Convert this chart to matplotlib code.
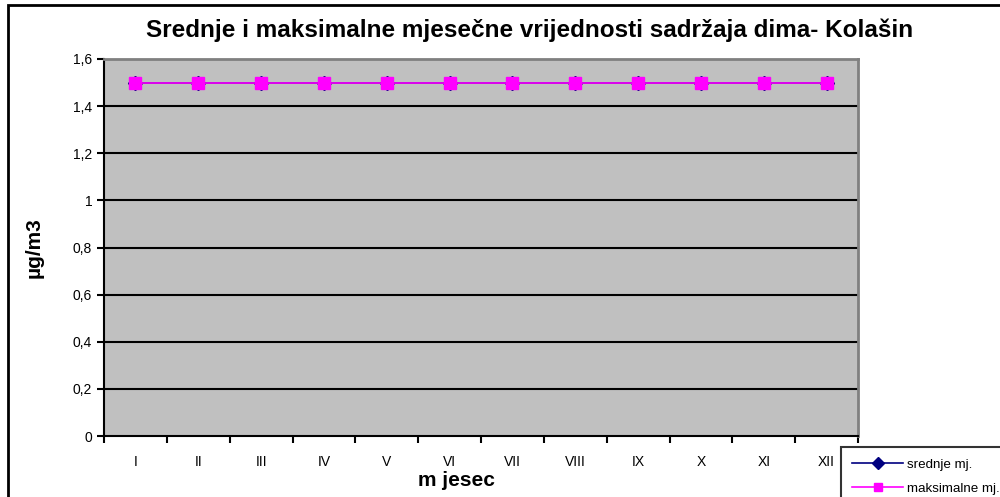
import matplotlib
matplotlib.use('Agg')
import matplotlib.pyplot as plt
import matplotlib.ticker as mticker
from matplotlib.patches import Rectangle

plt.rcParams['font.family'] = ['Liberation Sans', 'DejaVu Sans']

# podaci
months = ['I', 'II', 'III', 'IV', 'V', 'VI', 'VII', 'VIII', 'IX', 'X', 'XI', 'XII']
srednje = [1.5, 1.5, 1.5, 1.5, 1.5, 1.5, 1.5, 1.5, 1.5, 1.5, 1.5, 1.5]
maksimalne = [1.5, 1.5, 1.5, 1.5, 1.5, 1.5, 1.5, 1.5, 1.5, 1.5, 1.5, 1.5]
y_ticks = [0, 0.2, 0.4, 0.6, 0.8, 1.0, 1.2, 1.4, 1.6]

fig = plt.figure(figsize=(10, 4.97), dpi=100)
ax = fig.add_axes([0.104, 0.1227, 0.754, 0.7586])
ax.set_facecolor('#C0C0C0')

x = list(range(1, len(months) + 1))
ax.plot(x, srednje, color='#000080', linewidth=1.2, marker='D', markersize=7,
        label='srednje mj.', zorder=3)
ax.plot(x, maksimalne, color='#FF00FF', linewidth=1.2, marker='s', markersize=9,
        label='maksimalne mj.', zorder=4)

ax.set_xlim(0.5, 12.5)
ax.set_ylim(0, 1.6)
ax.set_yticks(y_ticks)
ax.yaxis.set_major_formatter(mticker.FuncFormatter(
    lambda v, p: ('%g' % v).replace('.', ',')))
ax.set_xticks(x)
ax.set_xticklabels(months)
ax.set_xticks([i + 0.5 for i in range(0, 13)], minor=True)
ax.tick_params(axis='x', which='major', length=0, pad=14, labelsize=10)
ax.tick_params(axis='x', which='minor', length=5, width=1.5, direction='out')
ax.tick_params(axis='y', length=5, width=1.5, direction='out', labelsize=10)

for yv in y_ticks[1:-1]:
    ax.axhline(yv, color='black', linewidth=1.5, zorder=1)

for s in ['left', 'bottom']:
    ax.spines[s].set_color('black')
    ax.spines[s].set_linewidth(1.5)
for s in ['top', 'right']:
    ax.spines[s].set_color('#808080')
    ax.spines[s].set_linewidth(2)

ax.set_xlabel('m jesec', fontsize=15, fontweight='bold')
ax.xaxis.set_label_coords(0.468, -0.093)
ax.set_ylabel('µg/m3', fontsize=15, fontweight='bold')
ax.yaxis.set_label_coords(-0.08, 0.5)
fig.suptitle('Srednje i maksimalne mjesečne vrijednosti sadržaja dima- Kolašin',
             fontsize=17.5, fontweight='bold', x=0.53, y=0.962)

leg = ax.legend(loc='upper left', bbox_to_anchor=(0.841, 0.1006),
                bbox_transform=fig.transFigure, borderaxespad=0,
                fontsize=9.6, frameon=True,
                fancybox=False, borderpad=0.85, handlelength=3.8,
                handletextpad=0.3, labelspacing=0.9)
leg.get_frame().set_edgecolor('black')
leg.get_frame().set_linewidth(1.5)
for h in leg.legend_handles:
    h.set_markersize(6)

# okvir slike
fig.patches.append(Rectangle((0.008, -0.1), 1.1, 1.09, transform=fig.transFigure,
                             fill=False, edgecolor='black', linewidth=2))

plt.savefig('out.png', dpi=100)
